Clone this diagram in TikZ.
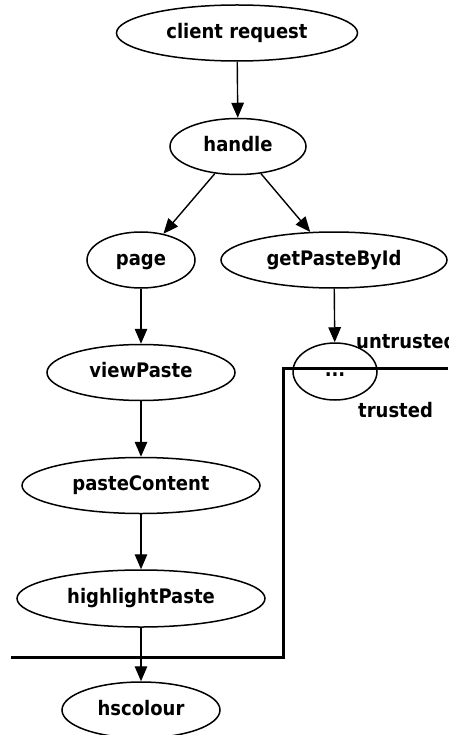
\documentclass[tikz,border=0pt]{standalone}
\usepackage{fontspec}
\newfontfamily\graphfont{DejaVu Sans Condensed Bold}
\usetikzlibrary{shapes.geometric,arrows.meta}

\begin{document}
\begin{tikzpicture}[x=1pt,y=-1pt,
  every node/.style={font=\graphfont\fontsize{20}{24}\selectfont},
  gnode/.style={ellipse,draw,line width=1.5pt,inner sep=0pt,
                text height=15.2pt,text depth=4.8pt},
  edge/.style={line width=1.4pt,-{Triangle[length=15pt,width=12.5pt]}},
  wall/.style={line width=3pt},
  lbl/.style={anchor=base west,inner sep=0pt}]
\useasboundingbox (0,0) rectangle (448,735);

% call graph nodes
\node[gnode,minimum width=241pt,minimum height=56pt] (client) at (237,33) {client request};
\node[gnode,minimum width=136pt,minimum height=56pt] (handle) at (238,146.5) {handle};
\node[gnode,minimum width=108pt,minimum height=56pt] (page) at (141,260) {page};
\node[gnode,minimum width=226pt,minimum height=56pt] (get) at (334,260) {getPasteById};
\node[gnode,minimum width=84pt,minimum height=57pt] (dots) at (335,371.5) {...};
\node[gnode,minimum width=188pt,minimum height=56pt] (view) at (141,372.5) {viewPaste};
\node[gnode,minimum width=238pt,minimum height=56pt] (content) at (141,485.5) {pasteContent};
\node[gnode,minimum width=248pt,minimum height=57pt] (highlight) at (141,598.5) {highlightPaste};
\node[gnode,minimum width=158pt,minimum height=56pt] (hs) at (141,710) {hscolour};

% calls
\draw[edge] (client) -- (handle);
\draw[edge] (handle) -- (page);
\draw[edge] (handle) -- (get);
\draw[edge] (get) -- (dots);
\draw[edge] (page) -- (view);
\draw[edge] (view) -- (content);
\draw[edge] (content) -- (highlight);
\draw[edge] (highlight) -- (hs);

% trust boundary
\coordinate (wallE) at (448,368);
\coordinate (wallC) at (283,368);
\coordinate (wallS) at (283,657);
\coordinate (wallW) at (11,657);
\draw[wall] (wallE) -- (wallC) -- (wallS) -- (wallW);

\node[lbl] (untrusted) at (356,348) {untrusted};
\node[lbl] (trusted) at (358,417) {trusted};
\end{tikzpicture}
\end{document}
